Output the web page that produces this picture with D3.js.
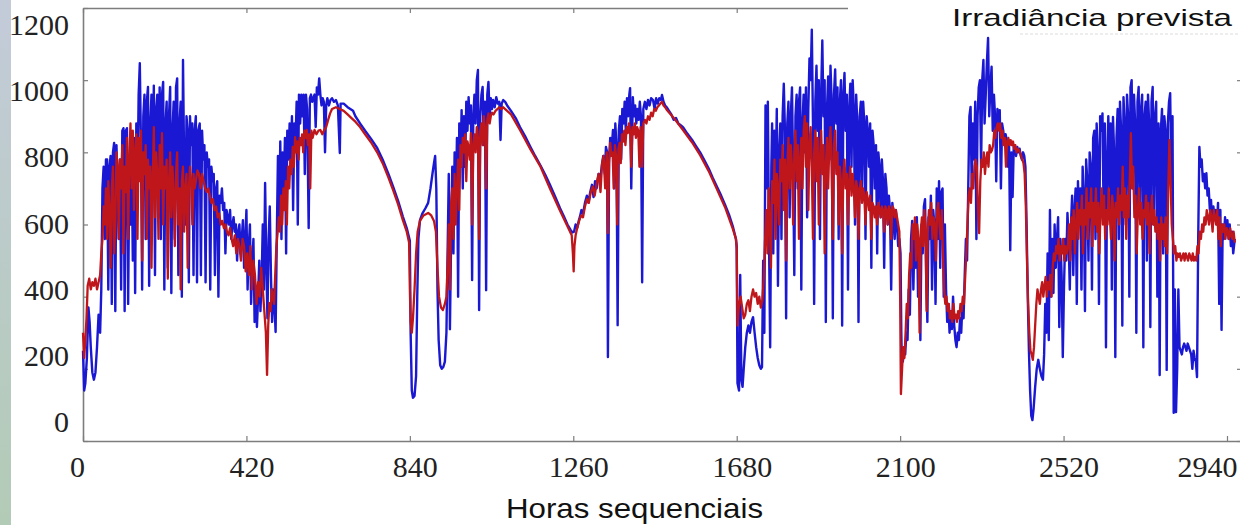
<!DOCTYPE html>
<html lang="pt">
<head>
<meta charset="UTF-8">
<title>Irradiância prevista</title>
<script src="https://cdn.jsdelivr.net/npm/d3@7"></script>
<style>
  body { margin: 0; padding: 0; width: 1240px; height: 525px; overflow: hidden; background: #fff; }
  svg { display: block; }
</style>
</head>
<body>
<svg id="chart" width="1240" height="525"></svg>
<script>
// irradiancia medida (azul), [hora, W/m2]
const measured = [
  [0,250],[3,140],[6,160],[10,230],[14,370],[17,330],[20,260],[24,190],[28,170],[32,190],[36,260],[40,350],[44,300],[47,420],[50,700],[53,760],[56,560],[59,780],[62,780],[65,420],[68,760],[71,790],[74,380],[77,800],[80,826],[83,360],[86,820],[89,700],[92,560],[95,780],[98,420],[101,860],[104,867],[107,360],[110,860],[113,867],[116,380],[119,760],[122,600],[125,820],[128,500],[131,840],[134,410],[137,880],[140,700],[143,960],[146,1047],[149,820],[152,420],[155,900],[158,960],[161,560],[164,940],[167,981],[170,430],[173,880],[176,960],[179,700],[182,985],[185,460],[188,920],[191,960],[194,620],[197,980],[200,560],[203,960],[206,995],[209,420],[212,880],[215,940],[218,480],[221,900],[224,981],[227,410],[230,860],[233,940],[236,560],[239,980],[242,1005],[245,460],[248,880],[251,940],[254,400],[257,1056],[260,760],[263,600],[266,900],[269,860],[272,440],[275,900],[278,820],[281,880],[284,460],[287,860],[290,900],[293,440],[296,860],
  [300,880],[303,460],[306,860],[309,780],[312,820],[315,440],[318,800],[321,760],[324,780],[327,420],[330,760],[333,720],[336,740],[339,460],[342,700],[345,720],[348,400],[351,680],[354,660],[357,700],[360,640],[363,660],[366,520],[369,640],[372,620],[375,600],[378,640],[381,560],[384,600],[387,620],[390,580],[393,600],[396,500],[399,580],[402,600],[405,520],[408,560],[411,612],[414,480],[417,560],[420,640],[423,420],[426,540],[429,600],[432,380],[435,500],[438,560],[441,330],[444,420],[447,316],[450,400],[453,500],[456,360],[459,440],[462,600],[465,420],[468,715],[471,500],[474,340],[477,560],[480,650],[483,460],[486,330],[489,420],[492,380],[495,302],[498,560],[501,790],
  [504,600],[507,830],[510,560],[513,800],[516,700],[519,840],[522,520],[525,860],[528,780],[531,880],[534,760],[537,900],[540,640],[543,880],[546,820],[549,940],[552,600],[555,960],[558,880],[561,960],[564,900],[567,960],[570,740],[573,960],[576,920],[580,590],[583,950],[586,960],[589,940],[592,950],[595,960],[598,870],[601,980],[604,960],[607,1005],[610,960],[613,930],[616,950],[619,940],[622,800],[625,930],[628,950],[632,930],[636,945],[640,950],[645,940],[650,945],[655,930],[660,798],[662,935],[670,935],[680,925],[694,915],[700,900],[712,880],[725,860],[740,838],[756,812],[770,780],[785,740],[797,705],[810,665],[822,622],[832,590],[840,555],[842,300],[845,140],[848,120],[852,125],[856,180],[859,400],[862,560],[866,612],[872,630],[880,645],[887,660],[893,700],[898,740],[902,770],[905,790],[908,700],[911,420],[914,280],[918,210],[922,200],[926,205],[930,220],
  [934,300],[937,520],[940,740],[943,310],[946,560],[949,760],[952,520],[955,800],[958,640],[961,840],[964,400],[967,880],[970,760],[973,917],[976,700],[979,900],[982,760],[985,940],[988,860],[991,953],[994,880],[997,930],[1000,446],[1003,900],[1006,960],[1009,880],[1012,1000],[1015,1028],[1018,363],[1021,900],[1024,960],[1027,981],[1030,820],[1033,940],[1036,418],[1039,960],[1042,995],[1045,900],[1048,950],[1051,920],[1054,945],[1058,925],[1062,953],[1066,935],[1070,940],[1073,834],[1076,935],[1080,945],[1085,940],[1090,930],[1100,915],[1112,895],[1123,870],[1136,845],[1150,815],[1162,790],[1175,765],[1188,738],[1200,710],[1213,678],[1226,645],[1236,622],[1245,600],[1253,585],[1258,578],
  [1262,580],[1266,600],[1270,590],[1274,610],[1277,621],[1281,640],[1285,630],[1290,660],[1295,680],[1299,660],[1303,687],[1308,710],[1312,676],[1316,720],[1320,700],[1325,740],[1329,723],[1333,760],[1337,790],[1341,740],[1344,815],[1347,800],[1349,233],[1352,780],[1355,840],[1358,800],[1362,862],[1365,700],[1368,880],[1371,820],[1374,321],[1377,860],[1380,900],[1383,780],[1386,920],[1389,880],[1392,940],[1395,860],[1398,950],[1401,900],[1404,960],[1406,978],[1409,700],[1413,953],[1416,900],[1419,930],[1422,880],[1425,920],[1428,890],[1431,940],[1434,900],[1437,440],[1440,920],[1444,940],[1448,920],[1452,945],[1456,930],[1460,950],[1465,945],[1469,920],[1473,950],[1477,935],[1481,950],[1485,945],[1488,959],[1492,940],[1496,930],[1500,925],[1506,915],[1512,905],[1518,890],[1524,895],[1530,880],[1536,875],[1542,870],[1553,852],[1565,835],[1575,818],[1586,800],[1597,778],[1608,755],[1618,730],[1629,705],[1640,680],[1650,655],[1660,628],[1670,595],[1678,560],[1680,540],
  [1682,160],[1686,140],[1689,460],[1692,170],[1695,150],[1698,200],[1702,260],[1706,300],[1710,320],[1714,300],[1718,330],[1722,343],[1726,300],[1730,260],[1734,230],[1738,210],[1742,200],[1745,205],[1748,500],[1751,300],[1754,930],[1757,700],[1760,940],[1763,560],[1766,260],[1769,760],[1771,880],[1774,520],[1777,860],[1780,700],[1783,920],[1786,430],[1789,800],[1792,880],[1795,560],[1798,900],[1801,990],[1804,860],[1807,340],[1810,880],[1813,940],[1816,620],[1819,900],[1822,980],[1825,760],[1828,460],[1831,900],[1834,960],[1837,700],[1840,940],[1843,980],[1846,420],[1849,880],[1852,960],[1855,800],[1858,980],[1861,620],[1864,920],[1867,1060],[1870,1000],[1873,1140],[1876,880],[1879,380],[1882,940],[1885,1040],[1888,860],[1891,1000],[1894,560],[1897,960],[1900,1110],[1903,900],[1906,1000],[1909,330],[1912,920],[1915,1010],[1918,780],[1921,1040],[1924,940],[1927,340],[1930,960],[1933,1030],[1936,880],[1939,980],[1942,560],[1945,940],[1948,1000],[1951,320],[1954,960],[1957,1020],[1960,860],[1963,960],[1966,420],[1969,920],[1972,990],[1975,760],[1978,1000],[1981,920],[1984,600],[1987,960],[1990,880],[1993,330],[1996,900],[1999,940],[2002,700],[2005,940],[2008,880],[2011,560],[2014,900],[2017,860],[2020,760],[2023,880],[2026,480],[2029,860],[2032,820],[2035,700],[2038,820],[2041,520],[2044,800],[2047,760],[2050,620],[2053,780],[2056,720],[2059,480],[2062,740],[2065,700],[2068,600],[2071,680],[2074,640],[2077,420],[2080,660],[2083,620],[2086,560],[2089,640],[2092,600],[2095,540],[2098,560],[2101,520],[2103,300],
  [2104,240],[2107,220],[2110,260],[2113,240],[2116,300],[2119,280],[2122,420],[2125,350],[2128,560],[2131,610],[2134,420],[2137,580],[2140,480],[2143,620],[2146,400],[2149,560],[2152,280],[2155,600],[2158,520],[2161,650],[2164,670],[2167,460],[2170,330],[2173,620],[2176,560],[2179,680],[2182,420],[2185,640],[2188,600],[2191,380],[2194,700],[2197,560],[2200,720],[2203,480],[2206,690],[2209,700],[2212,400],[2215,600],[2218,420],[2221,330],[2224,380],[2227,300],[2230,360],[2233,310],[2236,400],[2239,320],[2242,280],[2245,260],[2248,300],[2251,280],[2254,340],[2257,300],[2260,380],[2263,340],[2266,460],[2269,560],
  [2272,500],[2275,700],[2278,900],[2281,926],[2284,700],[2287,880],[2290,780],[2293,940],[2296,560],[2299,900],[2302,980],[2305,1000],[2308,760],[2311,1000],[2314,1056],[2317,880],[2320,960],[2323,1050],[2326,1117],[2329,900],[2332,980],[2335,1037],[2338,860],[2341,960],[2344,900],[2347,720],[2350,920],[2353,880],[2356,917],[2359,700],[2362,880],[2365,860],[2368,820],[2371,850],[2374,834],[2377,760],[2380,820],[2383,529],[2386,800],[2389,676],[2392,820],[2395,810],[2398,790],[2401,815],[2404,800],[2407,810],[2410,790],[2413,780],[2416,800],[2419,790],[2422,760],[2425,600],[2428,400],[2431,250],[2434,140],[2437,70],[2440,58],
  [2443,90],[2447,150],[2451,200],[2455,225],[2459,200],[2463,180],[2467,170],[2470,240],[2473,380],[2476,300],[2479,520],[2482,280],[2485,640],[2488,400],[2491,560],[2494,410],[2497,600],[2500,480],[2503,560],[2506,620],[2509,316],[2512,560],[2515,460],[2518,233],[2521,420],[2524,560],[2527,500],
  [2530,632],[2533,560],[2536,420],[2539,600],[2542,680],[2545,460],[2548,640],[2551,700],[2554,380],[2557,720],[2560,600],[2563,700],[2566,420],[2569,760],[2572,680],[2575,360],[2578,780],[2581,720],[2584,500],[2587,800],[2590,760],[2593,420],[2596,840],[2599,860],[2602,560],[2605,880],[2608,800],[2611,380],[2614,900],[2617,860],[2620,908],[2623,620],[2626,880],[2629,260],[2632,780],[2635,900],[2638,700],[2641,880],[2644,420],[2647,898],[2650,800],[2653,233],[2656,840],[2659,920],[2662,560],[2665,940],[2668,860],[2671,320],[2674,953],[2677,880],[2680,600],[2683,960],[2686,900],[2689,400],[2692,980],[2695,1000],[2698,700],[2701,960],[2704,880],[2707,300],[2710,940],[2713,981],[2716,620],[2719,920],[2722,960],[2725,260],[2728,900],[2731,940],[2734,500],[2737,960],[2740,880],[2743,316],[2746,940],[2749,981],[2752,600],[2755,900],[2758,940],[2761,400],[2764,880],[2767,183],[2770,860],[2773,920],[2776,520],[2779,900],[2782,860],[2785,197],[2788,880],[2791,940],[2794,964],[2797,700],[2800,900],[2803,78],[2806,420],[2809,80],[2812,200],[2815,420],[2818,260],[2821,250],[2824,240],[2827,260],[2830,270],[2833,260],[2836,250],[2839,270],[2842,260],[2845,250],[2848,240],[2851,200],[2854,250],[2857,230],[2860,220],[2863,177],[2866,560],[2869,815],[2872,760],[2875,780],[2878,720],[2881,740],[2884,700],[2887,742],[2890,680],[2893,700],[2896,640],[2899,668],[2902,600],[2905,650],[2908,620],[2911,640],[2914,600],[2917,660],[2920,380],[2923,640],[2926,308],[2929,600],[2932,560],[2935,620],[2938,580],[2941,612],[2944,560],[2947,600],[2950,540],[2953,580],[2956,520],[2960,560]
];

// irradiancia prevista (vermelho), [hora, W/m2]
const forecast = [
  [0,300],[3,230],[6,280],[9,340],[12,430],[16,450],[20,420],[24,440],[28,430],[32,450],[36,420],[40,440],[44,460],[47,520],
  [50,560],[53,650],[56,600],[59,700],[62,560],[65,720],[68,640],[71,480],[74,700],[77,760],[80,520],[83,600],[86,800],[89,760],[92,560],[95,780],[98,700],[101,820],[104,520],[107,760],[110,690],[113,840],[116,560],[119,780],[122,880],[125,700],[128,860],[131,640],[134,800],[137,850],[140,560],[143,840],[146,720],[149,860],[152,500],[155,800],[158,740],[161,820],[164,560],[167,780],[170,700],[173,760],[176,480],[179,720],[182,870],[185,620],[188,800],[191,740],[194,560],[197,820],[200,700],[203,853],[206,600],[209,760],[212,700],[215,780],[218,450],[221,720],[224,800],[227,620],[230,760],[233,680],[236,540],[239,740],[242,800],[245,600],[248,700],[251,420],[254,720],[257,760],[260,580],[263,700],[266,740],[269,480],[272,700],[275,760],[278,720],[281,600],[284,740],[287,700],[290,720],[294,750],[298,740],
  [302,700],[306,740],[310,720],[314,700],[318,690],[322,700],[326,680],[330,660],[334,670],[338,640],[342,650],[346,620],[350,630],[354,600],[358,610],[362,590],[366,600],[370,580],[374,570],[378,590],[382,560],[386,540],[390,570],[394,520],[398,560],[402,540],[406,500],[410,560],[414,540],[418,470],[422,520],[426,460],[430,540],[434,420],[438,500],[442,460],[446,380],[450,440],[454,400],[458,480],[462,420],[466,360],[470,300],[473,183],[476,320],[479,382],[482,360],[485,420],[488,400],[491,380],[494,460],[497,540],[500,576],
  [503,620],[506,580],[509,680],[512,600],[515,700],[518,640],[521,720],[524,600],[527,760],[530,700],[533,780],[536,740],[539,815],[542,760],[545,842],[548,800],[551,830],[554,780],[557,840],[560,820],[563,850],[566,800],[569,860],[572,840],[575,862],[578,820],[581,850],[584,700],[587,860],[590,840],[595,862],[600,850],[605,860],[610,862],[615,850],[620,862],[625,870],[630,890],[635,908],[640,920],[650,925],[660,920],[670,915],[680,905],[690,895],[700,885],[712,870],[725,850],[740,828],[756,800],[770,770],[785,730],[797,695],[810,655],[822,612],[832,580],[838,550],
  [840,420],[842,330],[845,300],[848,340],[852,420],[856,520],[860,580],[866,610],[875,625],[887,632],[895,625],[902,610],[907,580],[911,480],[915,400],[920,370],[925,363],[930,380],[934,400],[938,520],
  [940,600],[943,420],[946,660],[949,700],[952,560],[955,740],[958,600],[961,700],[964,780],[967,640],[970,820],[973,760],[976,840],[979,800],[982,850],[985,720],[988,830],[991,815],[994,780],[997,853],[1000,600],[1003,820],[1006,850],[1009,800],[1012,870],[1015,840],[1018,560],[1021,860],[1024,880],[1027,820],[1030,900],[1033,870],[1036,700],[1039,890],[1042,908],[1045,880],[1048,900],[1051,910],[1055,905],[1060,915],[1065,920],[1070,925],[1075,920],[1080,925],[1085,920],[1090,915],[1100,905],[1123,862],[1150,808],[1175,762],[1200,700],[1226,638],[1245,595],[1256,570],[1259,520],[1261,470],[1263,540],[1266,570],
  [1270,590],[1275,610],[1280,625],[1285,620],[1290,650],[1295,670],[1300,660],[1305,690],[1310,705],[1315,680],[1320,715],[1325,740],[1330,690],[1334,770],[1338,790],[1342,700],[1346,800],[1349,576],[1352,770],[1355,826],[1358,790],[1361,800],[1364,700],[1367,820],[1370,790],[1373,600],[1376,810],[1379,826],[1382,770],[1385,850],[1388,830],[1391,860],[1394,820],[1397,870],[1400,853],[1403,880],[1406,860],[1409,760],[1412,870],[1415,850],[1418,880],[1421,840],[1424,870],[1427,860],[1430,760],[1433,870],[1437,760],[1440,880],[1444,890],[1448,880],[1452,900],[1456,890],[1460,910],[1464,900],[1468,920],[1472,915],[1476,925],[1480,930],[1484,935],[1488,940],[1492,930],[1496,925],[1500,918],[1520,893],[1542,862],[1565,828],[1586,792],[1608,748],[1629,698],[1650,648],[1670,588],[1678,560],[1680,530],
  [1682,320],[1686,380],[1690,400],[1694,370],[1698,340],[1702,350],[1706,380],[1710,390],[1714,360],[1718,400],[1722,420],[1726,400],[1730,410],[1734,380],[1738,400],[1742,370],[1746,390],[1750,460],[1753,560],
  [1756,640],[1759,520],[1762,700],[1765,600],[1768,480],[1771,720],[1774,660],[1777,780],[1780,560],[1783,740],[1786,700],[1789,600],[1792,780],[1795,720],[1798,820],[1801,640],[1804,780],[1807,500],[1810,760],[1813,840],[1816,700],[1819,820],[1822,760],[1825,600],[1828,800],[1831,860],[1834,720],[1837,820],[1840,560],[1843,780],[1846,840],[1849,700],[1852,860],[1855,900],[1858,760],[1861,880],[1864,640],[1867,820],[1870,870],[1873,760],[1876,560],[1879,800],[1882,860],[1885,720],[1888,840],[1891,600],[1894,780],[1897,860],[1900,740],[1903,820],[1906,520],[1909,760],[1912,840],[1915,700],[1918,820],[1921,870],[1924,760],[1927,560],[1930,820],[1933,860],[1936,740],[1939,800],[1942,600],[1945,760],[1948,720],[1951,520],[1954,740],[1957,780],[1960,700],[1963,740],[1966,600],[1969,720],[1972,760],[1975,680],[1978,740],[1981,700],[1984,620],[1987,720],[1990,700],[1993,560],[1996,700],[1999,720],[2002,660],[2005,700],[2008,680],[2011,600],[2014,690],[2017,670],[2020,640],[2023,680],[2026,560],[2029,660],[2032,650],[2035,620],[2038,650],
  [2041,600],[2044,660],[2047,640],[2050,620],[2053,650],[2056,640],[2059,580],[2062,650],[2065,640],[2068,600],[2071,650],[2074,640],[2077,560],[2080,650],[2083,645],[2086,620],[2089,640],[2092,620],[2095,600],[2098,580],[2100,400],[2102,130],
  [2105,200],[2108,260],[2111,230],[2114,300],[2117,380],[2120,340],[2123,460],[2126,520],[2129,480],[2132,600],[2135,560],[2138,620],[2141,500],[2144,600],[2147,560],[2150,300],[2153,580],[2156,620],[2159,540],[2162,640],[2165,600],[2168,360],[2171,580],[2174,640],[2177,600],[2180,660],[2183,560],[2186,620],[2189,600],[2192,500],[2195,640],[2198,660],[2201,600],[2204,560],[2207,640],[2210,520],[2213,420],[2216,380],[2219,400],[2222,360],[2225,380],[2228,340],[2231,360],[2234,330],[2237,380],[2240,340],[2243,350],[2246,330],[2249,360],[2252,340],[2255,380],[2258,360],[2261,400],[2264,380],[2267,450],[2270,520],
  [2273,600],[2276,680],[2279,700],[2282,660],[2285,740],[2288,700],[2291,760],[2294,780],[2297,760],[2300,640],[2303,576],[2306,720],[2309,780],[2312,760],[2315,800],[2318,740],[2321,780],[2324,800],[2327,760],[2330,820],[2333,800],[2336,806],[2339,820],[2342,860],[2345,840],[2348,870],[2351,880],[2354,860],[2357,880],[2360,840],[2363,860],[2366,820],[2369,840],[2372,760],[2375,830],[2378,840],[2381,820],[2384,834],[2387,820],[2390,830],[2393,810],[2396,820],[2399,800],[2402,810],[2405,806],[2408,800],[2411,790],[2414,780],[2417,770],[2420,740],[2423,650],[2426,500],[2429,380],[2432,300],[2435,250],[2438,240],[2441,225],
  [2444,260],[2447,320],[2450,380],[2453,420],[2456,400],[2459,380],[2462,420],[2465,440],[2468,400],[2471,430],[2474,455],[2477,400],[2480,440],[2483,420],[2486,460],[2489,400],[2492,480],[2495,520],[2498,500],[2501,540],[2504,520],[2507,560],[2510,500],[2513,540],[2516,520],[2519,560],[2522,500],[2525,540],[2528,520],
  [2531,540],[2534,600],[2537,500],[2540,620],[2543,560],[2546,640],[2549,520],[2552,600],[2555,660],[2558,560],[2561,640],[2564,600],[2567,680],[2570,520],[2573,640],[2576,600],[2579,700],[2582,560],[2585,660],[2588,620],[2591,700],[2594,540],[2597,660],[2600,600],[2603,700],[2606,580],[2609,660],[2612,520],[2615,640],[2618,700],[2621,600],[2624,680],[2627,560],[2630,640],[2633,600],[2636,700],[2639,620],[2642,560],[2645,680],[2648,640],[2651,500],[2654,660],[2657,620],[2660,700],[2663,600],[2666,680],[2669,640],[2672,760],[2675,620],[2678,700],[2681,560],[2684,680],[2687,620],[2690,720],[2693,853],[2696,700],[2699,760],[2702,620],[2705,680],[2708,520],[2711,640],[2714,700],[2717,600],[2720,660],[2723,560],[2726,640],[2729,620],[2732,680],[2735,600],[2738,660],[2741,520],[2744,620],[2747,680],[2750,600],[2753,640],[2756,580],[2759,620],[2762,560],[2765,600],[2768,500],[2771,620],[2774,560],[2777,600],[2780,540],[2783,620],[2786,520],[2789,700],[2792,834],[2795,720],[2798,600],[2801,560],[2804,520],[2807,540],[2810,500],[2813,520],[2816,510],[2819,520],[2822,500],[2825,510],[2828,520],[2831,500],[2834,520],[2837,510],[2840,500],[2843,520],[2846,510],[2849,500],[2852,520],[2855,500],[2858,510],[2861,500],[2864,540],[2867,520],[2870,580],[2873,560],[2876,600],[2879,580],[2882,620],[2885,600],[2888,640],[2891,620],[2894,600],[2897,640],[2900,620],[2903,580],[2906,640],[2909,620],[2912,600],[2915,640],[2918,560],[2921,620],[2924,540],[2927,600],[2930,580],[2933,600],[2936,560],[2939,590],[2942,580],[2945,560],[2948,590],[2951,570],[2954,560],[2957,580],[2960,550]
];

const xTicks = [0, 420, 840, 1260, 1680, 2100, 2520, 2940];
const yTicks = [0, 200, 400, 600, 800, 1000, 1200];
const xTitle = "Horas sequenciais";
const legendTitle = "Irradiância prevista";

const svg = d3.select("#chart");
const mLeft = 83, mTop = 8, mRight = 1241, mBottom = 441;

const x = d3.scaleLinear().domain([0, 2976]).range([mLeft, mRight]);
const y = d3.scaleLinear().domain([0, 1200]).range([mBottom, mTop]);
// on the slide the y labels sit a little tighter than the ticks
const yLabel = d3.scaleLinear().domain([0, 1200]).range([422, 25]);
const plain = d3.format("d");

// slide border on the left
const grad = svg.append("defs").append("linearGradient")
    .attr("id", "strip").attr("x1", 0).attr("y1", 0).attr("x2", 0).attr("y2", 1);
grad.append("stop").attr("offset", "0%").attr("stop-color", "#c3cbd9");
grad.append("stop").attr("offset", "100%").attr("stop-color", "#b2cbb6");
svg.append("rect").attr("x", 0).attr("y", 0).attr("width", 11).attr("height", 525).attr("fill", "url(#strip)");

// box with inward ticks
function frame(g) {
    g.selectAll(".domain").attr("stroke", "#7d7d7d").attr("stroke-width", 1.6);
    g.selectAll(".tick line").attr("stroke", "#7d7d7d").attr("stroke-width", 1.2);
    g.selectAll(".tick text").remove();
}
svg.append("g").attr("transform", `translate(0,${mBottom})`)
    .call(d3.axisBottom(x).tickValues(xTicks).tickSizeInner(-5).tickSizeOuter(0)).call(frame);
svg.append("g").attr("transform", `translate(0,${mTop})`)
    .call(d3.axisTop(x).tickValues(xTicks).tickSizeInner(-5).tickSizeOuter(0)).call(frame);
svg.append("g").attr("transform", `translate(${mLeft},0)`)
    .call(d3.axisLeft(y).tickValues(yTicks).tickSizeInner(-5).tickSizeOuter(0)).call(frame);
svg.append("g").attr("transform", `translate(${mRight},0)`)
    .call(d3.axisRight(y).tickValues(yTicks).tickSizeInner(-4).tickSizeOuter(0)).call(frame);

// tick labels
const xl = svg.append("g").attr("transform", `translate(0,${mBottom})`)
    .call(d3.axisBottom(x).tickValues(xTicks).tickFormat(plain).tickSize(0).tickPadding(15));
xl.select(".domain").remove();
xl.selectAll("text")
    .attr("font-family", "'Liberation Serif', 'Times New Roman', serif")
    .attr("font-size", 30).attr("fill", "#222").attr("dx", 5);
xl.selectAll("text").filter(d => d === 0).attr("dx", -6);
xl.selectAll("text").filter(d => d === 2940).attr("text-anchor", "end").attr("dx", 10);

const yl = svg.append("g").attr("transform", "translate(69,0)")
    .call(d3.axisLeft(yLabel).tickValues(yTicks).tickFormat(plain).tickSize(0).tickPadding(0));
yl.select(".domain").remove();
yl.selectAll("text")
    .attr("font-family", "'Liberation Serif', 'Times New Roman', serif")
    .attr("font-size", 30).attr("fill", "#222");

// the legend box of the slide hides the top right corner of the frame
svg.append("rect").attr("x", 848).attr("y", 0).attr("width", 392).attr("height", 32).attr("fill", "#fff");
svg.append("line").attr("x1", 1020).attr("x2", 1240).attr("y1", 34).attr("y2", 34)
    .attr("stroke", "#dcdcdc").attr("stroke-width", 1.2).attr("stroke-dasharray", "3,2");
svg.append("text").attr("x", 952).attr("y", 26)
    .attr("font-family", "'Liberation Sans', Arial, sans-serif").attr("font-size", 24)
    .attr("textLength", 280).attr("lengthAdjust", "spacingAndGlyphs")
    .attr("fill", "#111").text(legendTitle);

// series
const line = d3.line().x(d => x(d[0])).y(d => y(d[1]));
svg.append("path").datum(measured)
    .attr("fill", "none").attr("stroke", "#1a18d2").attr("stroke-width", 2.4)
    .attr("stroke-linejoin", "round").attr("d", line);
svg.append("path").datum(forecast)
    .attr("fill", "none").attr("stroke", "#be161b").attr("stroke-width", 2.3)
    .attr("stroke-linejoin", "round").attr("d", line);

// axis title
svg.append("text").attr("x", 506).attr("y", 518)
    .attr("font-family", "'Liberation Sans', Arial, sans-serif").attr("font-size", 28)
    .attr("textLength", 257).attr("lengthAdjust", "spacingAndGlyphs")
    .attr("fill", "#111").text(xTitle);
</script>
</body>
</html>
